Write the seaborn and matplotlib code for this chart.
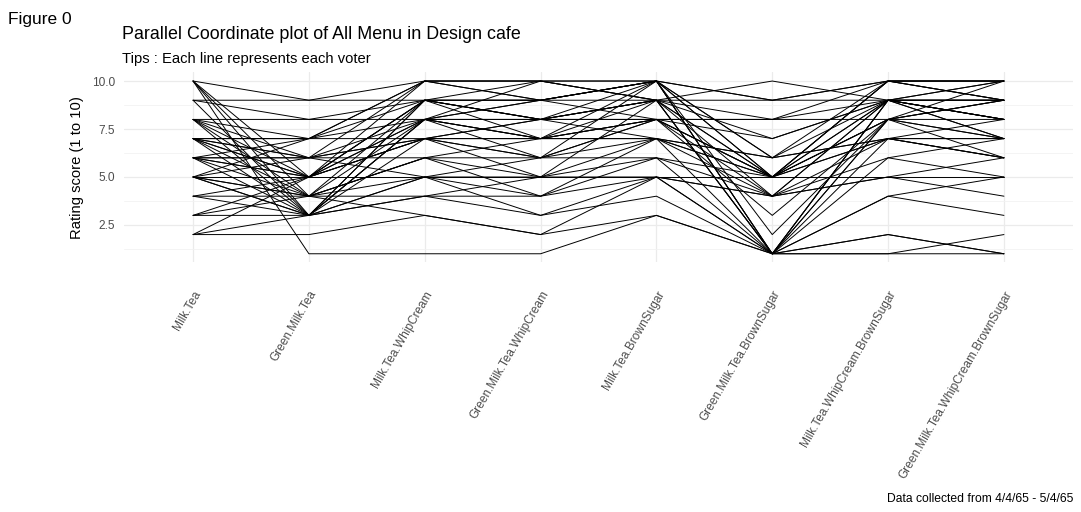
import numpy as np
import pandas as pd
import matplotlib
matplotlib.use("Agg")
import matplotlib.pyplot as plt
import seaborn as sns

menus = ['Milk.Tea', 'Green.Milk.Tea', 'Milk.Tea.WhipCream', 'Green.Milk.Tea.WhipCream',
         'Milk.Tea.BrownSugar', 'Green.Milk.Tea.BrownSugar',
         'Milk.Tea.WhipCream.BrownSugar', 'Green.Milk.Tea.WhipCream.BrownSugar']

# one entry per voter, same voter order in every list
milk_tea = [10, 10, 10, 10, 9, 9, 8, 8, 8, 8, 8, 7, 7, 7, 7, 7, 7, 7, 6, 6, 6, 6, 6, 6,
            5, 5, 5, 5, 5, 5, 5, 4, 4, 4, 3, 3, 3, 2, 2, 2, 10, 7, 8, 6, 9]
green_milk_tea = [9, 1, 5, 3, 9, 8, 8, 7, 5, 4, 3, 7, 6, 5, 4, 3, 5, 6, 6, 5, 4, 7, 3, 5,
                  5, 4, 3, 6, 7, 3, 4, 4, 3, 5, 3, 4, 5, 2, 3, 5, 4, 7, 6, 6, 3]
milk_tea_whip = [10, 1, 9, 8, 9, 9, 8, 10, 7, 9, 8, 8, 7, 9, 6, 8, 10, 5, 6, 7, 5, 9, 9, 8,
                 5, 6, 4, 8, 10, 7, 4, 3, 5, 9, 4, 6, 7, 3, 9, 8, 8, 7, 7, 10, 5]
green_milk_tea_whip = [10, 1, 9, 7, 8, 10, 9, 9, 7, 8, 6, 8, 6, 9, 5, 10, 9, 5, 7, 8, 4, 9, 8, 7,
                       5, 6, 4, 9, 10, 5, 3, 2, 6, 7, 5, 4, 6, 2, 8, 7, 8, 7, 8, 10, 3]
milk_tea_brown = [10, 3, 10, 10, 9, 9, 8, 10, 9, 8, 10, 9, 8, 10, 7, 9, 10, 6, 7, 8, 5, 9, 10, 7,
                  5, 7, 6, 10, 10, 9, 4, 5, 6, 8, 5, 7, 8, 3, 9, 8, 9, 8, 7, 9, 5]
green_milk_tea_brown = [9, 1, 1, 2, 9, 5, 8, 6, 1, 4, 1, 7, 5, 5, 1, 4, 5, 5, 6, 5, 4, 8, 1, 5,
                        5, 4, 1, 6, 9, 1, 1, 1, 4, 3, 4, 5, 5, 1, 1, 7, 5, 8, 6, 10, 1]
milk_tea_whip_brown = [10, 1, 9, 8, 9, 10, 10, 9, 8, 9, 9, 9, 7, 10, 6, 9, 10, 8, 7, 8, 5, 9, 9, 8,
                       5, 7, 4, 10, 10, 7, 2, 1, 6, 8, 5, 9, 7, 2, 8, 9, 9, 8, 7, 9, 4]
green_milk_tea_whip_brown = [10, 1, 9, 10, 9, 9, 9, 8, 7, 8, 10, 7, 6, 10, 5, 8, 9, 8, 7, 9, 4, 9, 7, 6,
                             5, 8, 3, 10, 10, 6, 1, 2, 7, 9, 6, 8, 7, 1, 9, 8, 9, 7, 6, 10, 5]

scores = [milk_tea, green_milk_tea, milk_tea_whip, green_milk_tea_whip,
          milk_tea_brown, green_milk_tea_brown, milk_tea_whip_brown, green_milk_tea_whip_brown]

df = pd.DataFrame({m: s for m, s in zip(menus, scores)})
df['voter'] = np.arange(len(df))
long_df = df.melt(id_vars='voter', var_name='menu', value_name='score')
long_df['pos'] = long_df['menu'].map({m: i for i, m in enumerate(menus)})

sns.set_theme(style='white')
plt.rcParams['font.family'] = ['Liberation Sans', 'DejaVu Sans']
plt.rcParams['text.color'] = 'black'
plt.rcParams['axes.labelcolor'] = 'black'

fig = plt.figure(figsize=(10.81, 5.12), dpi=100)
ax = fig.add_axes([0.1143, 0.4875, 0.8787, 0.3711])

sns.lineplot(data=long_df, x='pos', y='score', units='voter', estimator=None,
             sort=False, color='black', linewidth=0.7, ax=ax)

ax.set_xlim(-0.6, len(menus) - 0.4)
ax.set_ylim(0.55, 10.45)
ax.set_xticks(range(len(menus)))
ax.set_xticklabels(menus, rotation=60, ha='right', rotation_mode='anchor')
ax.set_yticks([2.5, 5.0, 7.5, 10.0])
ax.set_yticklabels(['2.5', '5.0', '7.5', '10.0'])
ax.set_yticks([1.25, 3.75, 6.25, 8.75], minor=True)
ax.grid(True, which='major', color='#EBEBEB', linewidth=0.9)
ax.grid(True, which='minor', axis='y', color='#F2F2F2', linewidth=0.6)
ax.set_axisbelow(True)
for sp in ax.spines.values():
    sp.set_visible(False)
ax.tick_params(axis='both', which='both', length=0, labelsize=8.6, labelcolor='#4D4D4D')
ax.tick_params(axis='x', pad=19)
ax.tick_params(axis='y', pad=6)
ax.set_xlabel('')
ax.set_ylabel('Rating score (1 to 10)', fontsize=10.6, color='black', labelpad=6)

fig.text(0.0074, 0.953, 'Figure 0', fontsize=12.5, va='baseline', ha='left')
fig.text(0.1129, 0.9238, 'Parallel Coordinate plot of All Menu in Design cafe', fontsize=12.9,
         va='baseline', ha='left')
fig.text(0.1129, 0.877, 'Tips : Each line represents each voter', fontsize=10.6,
         va='baseline', ha='left')
fig.text(0.9926, 0.0195, 'Data collected from 4/4/65 - 5/4/65', fontsize=8.7,
         va='baseline', ha='right')

fig.savefig('out.png', dpi=100, facecolor='white')
